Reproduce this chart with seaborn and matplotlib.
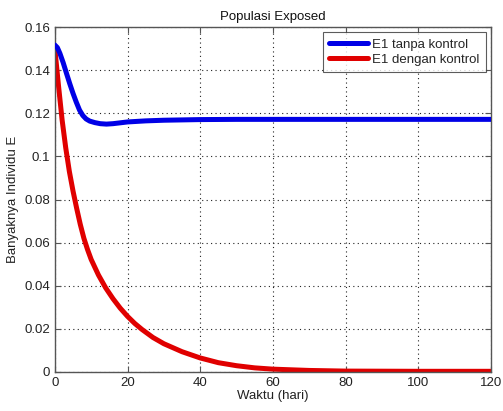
import matplotlib
matplotlib.use("Agg")
import matplotlib.pyplot as plt
import pandas as pd
import seaborn as sns

# values
t_tanpa = [0, 0.7, 1.4, 2.3, 3.2, 4.1, 5.0, 5.9, 6.8, 7.7, 8.6, 9.6, 11.0,
           12.5, 14.2, 16.0, 18.0, 20.0, 25.0, 30.0, 40.0, 50.0, 60.0, 80.0,
           100.0, 120.0]
e_tanpa = [0.1517, 0.1505, 0.1478, 0.1435, 0.1386, 0.1338, 0.1293, 0.1252,
           0.1215, 0.1190, 0.1174, 0.1164, 0.1157, 0.1152, 0.1150, 0.1152,
           0.1156, 0.1160, 0.1165, 0.1168, 0.1171, 0.1172, 0.1172, 0.1172,
           0.1172, 0.1172]

t_dengan = [0, 1, 2, 3, 4, 5, 6, 7, 8, 9, 10, 12, 14, 16, 18, 20, 22, 24, 27,
            30, 35, 40, 45, 50, 55, 60, 70, 80, 100, 120]
e_dengan = [0.150, 0.133, 0.117, 0.104, 0.093, 0.084, 0.076, 0.0685, 0.0620,
            0.0568, 0.0522, 0.0450, 0.0390, 0.0340, 0.0296, 0.0258, 0.0225,
            0.0197, 0.0160, 0.0131, 0.0094, 0.0065, 0.0043, 0.0029, 0.0019,
            0.0013, 0.0007, 0.0004, 0.0003, 0.0003]

labels = ["E1 tanpa kontrol", "E1 dengan kontrol"]
colors = ["#0000e6", "#e00000"]

df = pd.concat([
    pd.DataFrame({"t": t_tanpa, "E": e_tanpa, "seri": labels[0]}),
    pd.DataFrame({"t": t_dengan, "E": e_dengan, "seri": labels[1]}),
])

sns.set_theme(style="white")
plt.rcParams["font.family"] = ["Liberation Sans", "DejaVu Sans"]

fig = plt.figure(figsize=(5.03, 4.11), dpi=100)
ax = fig.add_axes([0.109, 0.095, 0.867, 0.839])

sns.lineplot(data=df, x="t", y="E", hue="seri", palette=colors,
             linewidth=3.6, ax=ax, sort=False)
ax.lines[0].set_zorder(3)

ax.set_xlim(0, 120)
ax.set_ylim(0, 0.16)
ax.set_xticks(range(0, 121, 20))
ax.set_yticks([0, 0.02, 0.04, 0.06, 0.08, 0.1, 0.12, 0.14, 0.16])
ax.set_yticklabels(["0", "0.02", "0.04", "0.06", "0.08", "0.1", "0.12",
                    "0.14", "0.16"])
ax.grid(True, linestyle=(0, (1, 3)), color="#222222", linewidth=0.8)
ax.tick_params(direction="in", length=4, width=0.8, colors="#555555",
               labelcolor="#222222", labelsize=9.5, top=True, right=True,
               bottom=True, left=True)
for s in ax.spines.values():
    s.set_color("#555555")
    s.set_linewidth(1.0)

ax.set_title("Populasi Exposed", fontsize=9.5, color="#111111", pad=5)
ax.set_xlabel("Waktu (hari)", fontsize=9.5, color="#222222", labelpad=1)
ax.set_ylabel("Banyaknya Individu E", fontsize=9.5, color="#222222",
              labelpad=4)

leg = ax.legend(loc="upper right", fontsize=9.5, frameon=True, fancybox=False,
                edgecolor="#333333", handlelength=3.0, borderaxespad=0.4,
                borderpad=0.45, labelspacing=0.25, handletextpad=0.3)
leg.get_frame().set_linewidth(0.8)
for line in leg.get_lines():
    line.set_linewidth(3.6)

fig.savefig("out.png", dpi=100, facecolor="white")
